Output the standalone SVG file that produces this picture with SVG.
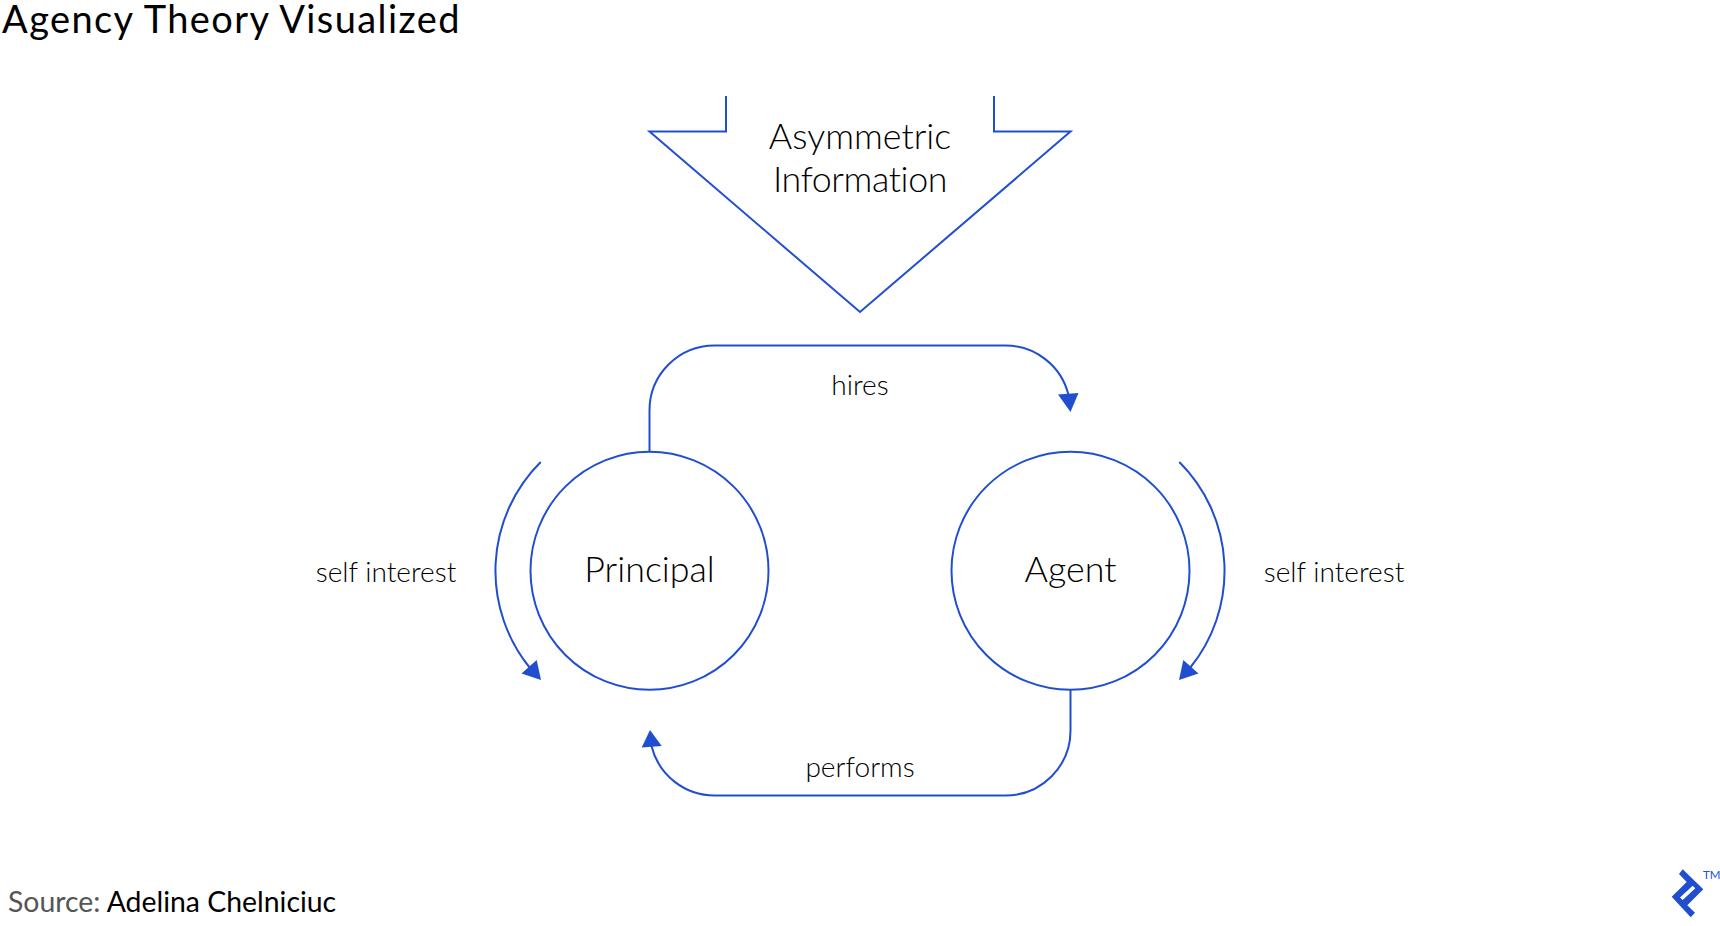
<svg xmlns="http://www.w3.org/2000/svg" width="1720" height="926" viewBox="0 0 1720 926">
<defs>
<style>
.ln{fill:none;stroke:#204ecf;stroke-width:2}
.hd{fill:#204ecf;stroke:none}
text{font-family:"Lato","Liberation Sans",sans-serif;font-weight:300;fill:#000;font-variant-ligatures:none}
.lbl{font-size:28.1px;text-anchor:middle}
.big{font-size:35.8px;text-anchor:middle}
</style>
</defs>
<rect width="1720" height="926" fill="#fff"/>
<text id="title" x="2" y="33" font-size="38" letter-spacing="1.4" style="font-weight:400">Agency Theory Visualized</text>
<g id="asymmetric-information">
<path class="ln" d="M726 96V131.600H649.500L860 312L1070.500 131.600H994V96"/>
<text class="big" x="860" y="148.500">Asymmetric</text>
<text class="big" x="860" y="191.500" letter-spacing="-0.4">Information</text>
</g>
<g id="principal">
<circle class="ln" cx="649.500" cy="570.800" r="119"/>
<text class="big" x="649.500" y="581.500">Principal</text>
</g>
<g id="agent">
<circle class="ln" cx="1070.500" cy="570.800" r="119"/>
<text class="big" x="1070.500" y="581.500">Agent</text>
</g>
<g id="connectors">
<path class="ln" d="M649.500 452V410.500A65 65 0 0 1 714.500 345.500H1005.500A65 65 0 0 1 1068.500 395"/>
<polygon class="hd" points="1070.500,412 1058,394.500 1078.500,393"/>
<path class="ln" d="M1070.500 689.500V730.500A65 65 0 0 1 1005.500 795.500H714.500A65 65 0 0 1 651.500 746"/>
<polygon class="hd" points="650,730 641.700,747.500 661.700,746"/>
<path class="ln" d="M540.700 462A153.700 153.700 0 0 0 530 668"/>
<polygon class="hd" points="541,680 521.500,673.500 536.700,660"/>
<path class="ln" d="M1179.300 462A153.700 153.700 0 0 1 1190 668"/>
<polygon class="hd" points="1179,680 1198.500,673.500 1183.300,660"/>
</g>
<text class="lbl" x="860" y="394.500">hires</text>
<text class="lbl" x="860" y="776.500">performs</text>
<text class="lbl" x="386" y="581.500">self interest</text>
<text class="lbl" x="1334" y="581.500">self interest</text>
<text id="source" x="8" y="912" font-size="28.400" style="font-weight:400"><tspan fill="#555">Source:</tspan> Adelina Chelniciuc</text>
<g id="logo">
<path class="hd" fill-rule="evenodd" d="M1682.700 869.300L1703.300 889.300L1687.300 905.300L1695 912.700L1690.700 917.300L1671.700 896.700L1686.700 882L1679 874ZM1680 897.500L1682.700 900L1695.300 888.300L1692.700 885.700Z"/>
<text x="1703" y="878.500" font-size="11.500" style="fill:#204ecf;font-weight:400">TM</text>
</g>
</svg>
